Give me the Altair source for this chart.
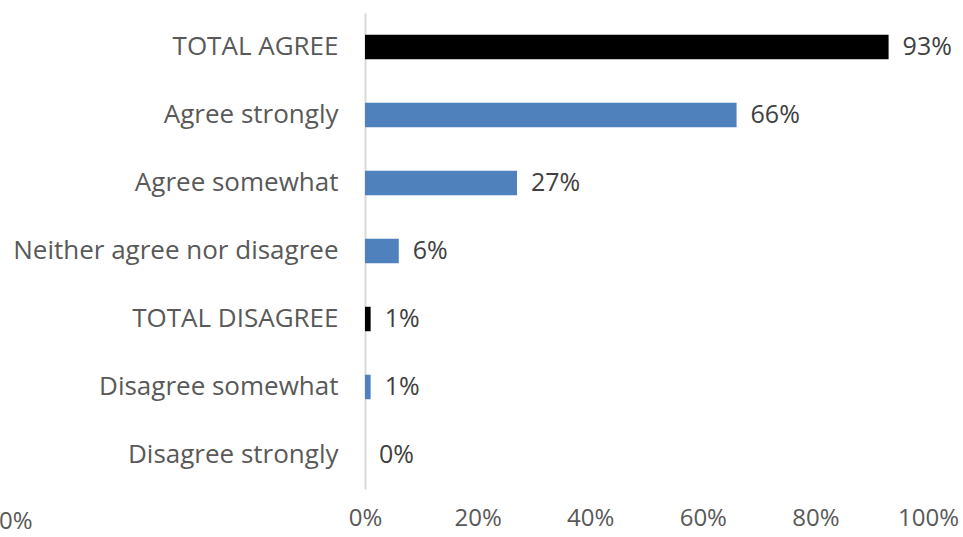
import altair as alt
import pandas as pd

categories = ["TOTAL AGREE", "Agree strongly", "Agree somewhat",
              "Neither agree nor disagree", "TOTAL DISAGREE",
              "Disagree somewhat", "Disagree strongly"]
values = [0.93, 0.66, 0.27, 0.06, 0.01, 0.01, 0.00]
bar_colors = ["#000000", "#4f81bd", "#4f81bd", "#4f81bd", "#000000", "#4f81bd", "#4f81bd"]
x_ticks = [0, 0.2, 0.4, 0.6, 0.8, 1.0]
stray_label = ["0%"]

df = pd.DataFrame({"cat": categories, "val": values, "color": bar_colors})

FONT = "Open Sans"
W, H = 563, 476

base = alt.Chart(df).encode(
    y=alt.Y("cat:N", sort=categories,
            scale=alt.Scale(paddingInner=0.64, paddingOuter=0.32),
            axis=alt.Axis(title=None, ticks=False, domainColor="#d9d9d9",
                          domainWidth=2, labelFontSize=26, labelFont=FONT,
                          labelColor="#595959", labelPadding=27,
                          labelLimit=400)),
)

bars = base.mark_bar().encode(
    x=alt.X("val:Q", scale=alt.Scale(domain=[0, 1]),
            axis=alt.Axis(title=None, values=x_ticks, format=".0%", grid=False,
                          domain=False, ticks=False, labelFontSize=24,
                          labelFont=FONT, labelColor="#595959",
                          labelPadding=17, labelFlush=False)),
    color=alt.Color("color:N", scale=None),
)

labels = base.mark_text(align="left", baseline="middle", dx=14,
                        fontSize=25, font=FONT, color="#404040").encode(
    x=alt.X("val:Q"),
    text=alt.Text("val:Q", format=".0%"),
)

stray = alt.Chart(pd.DataFrame({"t": stray_label})).mark_text(
    align="left", baseline="middle", fontSize=24, font=FONT, color="#595959"
).encode(
    x=alt.value(-366), y=alt.value(H + 33), text="t:N"
)

chart = alt.layer(bars, labels, stray).properties(
    width=W, height=H,
    background="white",
    autosize=alt.AutoSizeParams(type="none"),
    padding={"left": 365, "top": 13, "right": 35, "bottom": 48},
).configure_view(stroke=None, strokeWidth=0)

chart.save("out.html", embed_options={"renderer": "svg", "actions": False})
